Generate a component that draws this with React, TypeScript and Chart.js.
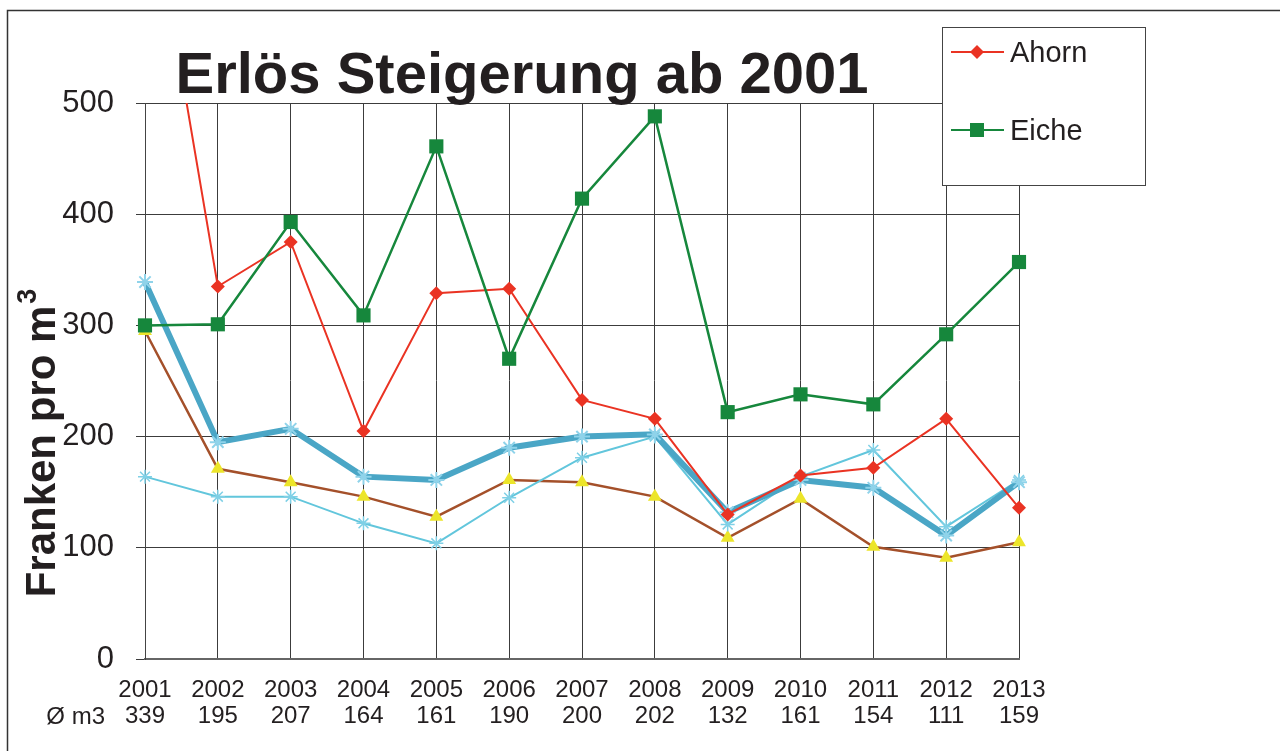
import React, { useEffect, useRef } from "react";
import { Chart, registerables } from "chart.js";

Chart.register(...registerables);

const years = ["2001", "2002", "2003", "2004", "2005", "2006", "2007", "2008", "2009", "2010", "2011", "2012", "2013"];
const avgM3 = [339, 195, 207, 164, 161, 190, 200, 202, 132, 161, 154, 111, 159];
const ahorn = [720, 335, 375, 205, 329, 333, 233, 216, 130, 165, 172, 216, 136];
const eiche = [300, 301, 393, 309, 461, 270, 414, 488, 222, 238, 229, 292, 357];
const hellblau = [164, 146, 146, 122, 104, 145, 181, 200, 121, 164, 188, 119, 161];
const braun = [295, 171, 159, 146, 128, 161, 159, 146, 109, 144, 101, 91, 105];
const yMin = 0;
const yMax = 500;
const yStep = 100;

const titleText = "Erlös Steigerung ab 2001";
const yTitleText = "Franken pro m";
const yTitleSup = "3";
const avgRowLabel = "Ø m3";
const legendNames = ["Ahorn", "Eiche"];

const FONT = "'Liberation Sans', Arial, Helvetica, sans-serif";
const TEXT = "#231f20";
const RED = "#ea3323";
const GREEN = "#16873c";
const BLUE = "#4aa6c6";
const LIGHTBLUE = "#62c6dc";
const BROWN = "#a4502a";
const YELLOW = "#ece52a";

const decorPlugin = {
  id: "decor",
  afterDraw(chart: any) {
    const ctx = chart.ctx;
    const xs = chart.scales.x;
    ctx.save();
    // outer frame
    ctx.strokeStyle = "#333";
    ctx.lineWidth = 1.5;
    ctx.beginPath();
    ctx.moveTo(7.5, 760);
    ctx.lineTo(7.5, 10.5);
    ctx.lineTo(1290, 10.5);
    ctx.stroke();

    // title
    ctx.fillStyle = TEXT;
    ctx.font = `bold 58px ${FONT}`;
    ctx.textAlign = "center";
    ctx.textBaseline = "alphabetic";
    ctx.fillText(titleText, 522, 93);

    // y-axis title with superscript
    ctx.save();
    ctx.translate(40, 443);
    ctx.rotate(-Math.PI / 2);
    ctx.font = `bold 42px ${FONT}`;
    const mainW = ctx.measureText(yTitleText).width;
    ctx.font = `bold 27px ${FONT}`;
    const supW = ctx.measureText(yTitleSup).width;
    const total = mainW + supW + 2;
    ctx.textAlign = "left";
    ctx.textBaseline = "alphabetic";
    ctx.font = `bold 42px ${FONT}`;
    ctx.fillText(yTitleText, -total / 2, 15);
    ctx.font = `bold 27px ${FONT}`;
    ctx.fillText(yTitleSup, -total / 2 + mainW + 2, -4);
    ctx.restore();

    // row label
    ctx.font = `24px ${FONT}`;
    ctx.textAlign = "right";
    ctx.textBaseline = "middle";
    ctx.fillText(avgRowLabel, xs.getPixelForValue(0) - 40, 717);

    // legend
    ctx.fillStyle = "#fff";
    ctx.fillRect(942, 27, 203, 158);
    ctx.strokeStyle = "#444";
    ctx.lineWidth = 1;
    ctx.strokeRect(942.5, 27.5, 203, 158);
    const entries = [
      { name: legendNames[0], color: RED, y: 52, marker: "diamond" },
      { name: legendNames[1], color: GREEN, y: 130, marker: "square" },
    ];
    for (const e of entries) {
      ctx.strokeStyle = e.color;
      ctx.lineWidth = 2;
      ctx.beginPath();
      ctx.moveTo(951, e.y);
      ctx.lineTo(1004, e.y);
      ctx.stroke();
      ctx.fillStyle = e.color;
      if (e.marker === "diamond") {
        ctx.beginPath();
        ctx.moveTo(977, e.y - 7);
        ctx.lineTo(984, e.y);
        ctx.lineTo(977, e.y + 7);
        ctx.lineTo(970, e.y);
        ctx.closePath();
        ctx.fill();
      } else {
        ctx.fillRect(970, e.y - 7, 14, 14);
      }
      ctx.fillStyle = TEXT;
      ctx.font = `29px ${FONT}`;
      ctx.textAlign = "left";
      ctx.textBaseline = "middle";
      ctx.fillText(e.name, 1010, e.y + 2);
    }
    ctx.restore();
  },
};

export default function App() {
  const ref = useRef<HTMLCanvasElement | null>(null);

  useEffect(() => {
    if (!ref.current) return;
    const labels = years.map((y, i) => [y, String(avgM3[i])]);
    const chart = new Chart(ref.current, {
      type: "line",
      data: {
        labels,
        datasets: [
          {
            label: legendNames[1],
            data: eiche,
            borderColor: GREEN,
            backgroundColor: GREEN,
            borderWidth: 2.5,
            pointStyle: "rect",
            pointRadius: 10,
            pointBorderWidth: 0,
            tension: 0,
          },
          {
            label: legendNames[0],
            data: ahorn,
            borderColor: RED,
            backgroundColor: RED,
            borderWidth: 2,
            pointStyle: "rectRot",
            pointRadius: 7,
            pointBorderWidth: 0,
            tension: 0,
          },
          {
            label: "Ø m3",
            data: avgM3,
            borderColor: BLUE,
            backgroundColor: "#8fd3ea",
            borderWidth: 6,
            pointStyle: "star",
            pointRadius: 8,
            pointBorderColor: "#8fd3ea",
            pointBorderWidth: 2,
            tension: 0,
          },
          {
            label: "hell",
            data: hellblau,
            borderColor: LIGHTBLUE,
            backgroundColor: LIGHTBLUE,
            borderWidth: 2,
            pointStyle: "star",
            pointRadius: 7,
            pointBorderColor: "#7fd0e6",
            pointBorderWidth: 1.5,
            tension: 0,
          },
          {
            label: "braun",
            data: braun,
            borderColor: BROWN,
            backgroundColor: YELLOW,
            borderWidth: 2.5,
            pointStyle: "triangle",
            pointRadius: 8,
            pointBorderWidth: 0,
            tension: 0,
          },
        ],
      },
      options: {
        responsive: false,
        animation: false,
        layout: { padding: { left: 0, right: 261, top: 103, bottom: 0 } },
        plugins: {
          legend: { display: false },
          title: { display: false },
          tooltip: { enabled: false },
        },
        scales: {
          x: {
            afterFit: (s: any) => {
              s.height = 92;
            },
            grid: { color: "#3c3c3c", lineWidth: 1, drawTicks: false },
            border: { color: "#666", width: 2 },
            ticks: {
              color: TEXT,
              font: { family: FONT, size: 24, lineHeight: 1.1 },
              padding: 18,
              maxRotation: 0,
              autoSkip: false,
            },
          },
          y: {
            min: yMin,
            max: yMax,
            afterFit: (s: any) => {
              s.width = 145;
            },
            grid: { color: "#3c3c3c", lineWidth: 1, tickLength: 9 },
            border: { color: "#444", width: 1 },
            ticks: {
              stepSize: yStep,
              color: TEXT,
              font: { family: FONT, size: 31 },
              padding: 22,
            },
          },
        },
      },
      plugins: [decorPlugin],
    });
    return () => chart.destroy();
  }, []);

  return (
    <div style={{ position: "absolute", left: 0, top: 0, width: 1280, height: 751, background: "#fff" }}>
      <canvas ref={ref} width={1280} height={751} style={{ width: 1280, height: 751, display: "block" }} />
    </div>
  );
}
